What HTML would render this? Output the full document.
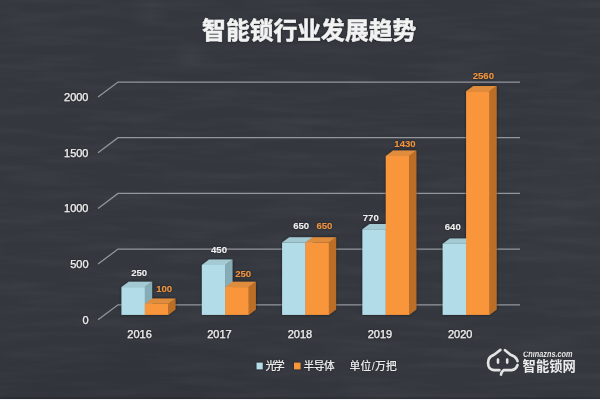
<!DOCTYPE html>
<html lang="zh-CN"><head><meta charset="utf-8"><title>智能锁行业发展趋势</title>
<style>
html,body{margin:0;padding:0;background:#34373e;}
body{width:600px;height:400px;overflow:hidden;font-family:"Liberation Sans","Noto Sans CJK SC",sans-serif;}
svg{display:block}
text{font-family:"Liberation Sans","Noto Sans CJK SC",sans-serif;}
</style></head><body>
<svg width="600" height="400" viewBox="0 0 600 400">
<defs>
<filter id="soft" x="-5%" y="-5%" width="110%" height="110%"><feGaussianBlur stdDeviation="0.45"/></filter>
<filter id="halo" x="-10%" y="-10%" width="120%" height="120%">
<feGaussianBlur in="SourceAlpha" stdDeviation="1.6" result="b"/>
<feComponentTransfer in="b" result="s"><feFuncA type="linear" slope="0.55"/></feComponentTransfer>
<feGaussianBlur in="SourceGraphic" stdDeviation="0.45" result="g"/>
<feMerge><feMergeNode in="s"/><feMergeNode in="g"/></feMerge>
</filter>
<filter id="thalo" x="-10%" y="-30%" width="120%" height="160%">
<feGaussianBlur in="SourceAlpha" stdDeviation="1.2" result="b"/>
<feComponentTransfer in="b" result="s"><feFuncA type="linear" slope="0.5"/></feComponentTransfer>
<feGaussianBlur in="SourceGraphic" stdDeviation="0.4" result="g"/>
<feMerge><feMergeNode in="s"/><feMergeNode in="g"/></feMerge>
</filter>
<filter id="grain" x="0" y="0" width="100%" height="100%">
<feTurbulence type="fractalNoise" baseFrequency="0.012 0.11" numOctaves="3" seed="7" result="n"/>
<feColorMatrix in="n" type="matrix" values="0 0 0 0 0.5  0 0 0 0 0.5  0 0 0 0 0.52  1.6 0 0 0 -0.62"/>
</filter>
<radialGradient id="dk" cx="0.5" cy="0.5" r="0.5"><stop offset="0" stop-color="#000" stop-opacity="0.07"/><stop offset="1" stop-color="#000" stop-opacity="0"/></radialGradient>
<radialGradient id="lt" cx="0.5" cy="0.5" r="0.5"><stop offset="0" stop-color="#fff" stop-opacity="0.03"/><stop offset="1" stop-color="#fff" stop-opacity="0"/></radialGradient>
</defs>
<rect width="600" height="400" fill="#34373e"/>
<rect width="600" height="400" filter="url(#grain)" opacity="0.065"/>
<ellipse cx="120" cy="390" rx="260" ry="80" fill="url(#dk)"/>
<ellipse cx="565" cy="200" rx="70" ry="150" fill="url(#lt)" opacity="0.5"/>
<ellipse cx="150" cy="12" rx="22" ry="18" fill="url(#lt)"/>
<ellipse cx="190" cy="55" rx="18" ry="16" fill="url(#lt)"/>

<g fill="none" stroke="#93969d" stroke-width="1.3" filter="url(#soft)">
<polyline points="98,319.8 118,304.8 520,304.8"/>
<polyline points="98,264.1 118,249.1 520,249.1"/>
<polyline points="98,208.4 118,193.4 520,193.4"/>
<polyline points="98,152.7 118,137.7 520,137.7"/>
<polyline points="98,97.1 118,82.1 520,82.1"/>
</g>
<g fill="#eeeeee" font-size="11" text-anchor="end" stroke="#eeeeee" stroke-width="0.25" filter="url(#thalo)">
<text x="88.5" y="323.7">0</text>
<text x="88.5" y="268.0">500</text>
<text x="88.5" y="212.3">1000</text>
<text x="88.5" y="156.6">1500</text>
<text x="88.5" y="101.0">2000</text>
</g>
<g filter="url(#halo)">
<polygon points="144.9,287.1 152.1,281.8 152.1,309.6 144.9,314.9" fill="#86acb8"/>
<polygon points="121.5,287.1 128.7,281.8 152.1,281.8 144.9,287.1" fill="#a3c9d2"/>
<rect x="121.5" y="287.1" width="23.4" height="27.8" fill="#b2dde8"/>
<polygon points="168.3,303.8 175.5,298.5 175.5,309.6 168.3,314.9" fill="#bd6e25"/>
<polygon points="144.9,303.8 152.1,298.5 175.5,298.5 168.3,303.8" fill="#e08c3e"/>
<rect x="144.9" y="303.8" width="23.4" height="11.1" fill="#f9963b"/>
<polygon points="225.3,264.9 232.5,259.6 232.5,309.6 225.3,314.9" fill="#86acb8"/>
<polygon points="201.9,264.9 209.1,259.6 232.5,259.6 225.3,264.9" fill="#a3c9d2"/>
<rect x="201.9" y="264.9" width="23.4" height="50.0" fill="#b2dde8"/>
<polygon points="248.7,287.1 255.9,281.8 255.9,309.6 248.7,314.9" fill="#bd6e25"/>
<polygon points="225.3,287.1 232.5,281.8 255.9,281.8 248.7,287.1" fill="#e08c3e"/>
<rect x="225.3" y="287.1" width="23.4" height="27.8" fill="#f9963b"/>
<polygon points="305.5,242.6 312.7,237.3 312.7,309.6 305.5,314.9" fill="#86acb8"/>
<polygon points="282.1,242.6 289.3,237.3 312.7,237.3 305.5,242.6" fill="#a3c9d2"/>
<rect x="282.1" y="242.6" width="23.4" height="72.3" fill="#b2dde8"/>
<polygon points="328.9,242.6 336.1,237.3 336.1,309.6 328.9,314.9" fill="#bd6e25"/>
<polygon points="305.5,242.6 312.7,237.3 336.1,237.3 328.9,242.6" fill="#e08c3e"/>
<rect x="305.5" y="242.6" width="23.4" height="72.3" fill="#f9963b"/>
<polygon points="385.8,229.3 393.0,224.0 393.0,309.6 385.8,314.9" fill="#86acb8"/>
<polygon points="362.4,229.3 369.6,224.0 393.0,224.0 385.8,229.3" fill="#a3c9d2"/>
<rect x="362.4" y="229.3" width="23.4" height="85.6" fill="#b2dde8"/>
<polygon points="409.2,155.9 416.4,150.6 416.4,309.6 409.2,314.9" fill="#bd6e25"/>
<polygon points="385.8,155.9 393.0,150.6 416.4,150.6 409.2,155.9" fill="#e08c3e"/>
<rect x="385.8" y="155.9" width="23.4" height="159.0" fill="#f9963b"/>
<polygon points="466.1,243.7 473.3,238.4 473.3,309.6 466.1,314.9" fill="#86acb8"/>
<polygon points="442.7,243.7 449.9,238.4 473.3,238.4 466.1,243.7" fill="#a3c9d2"/>
<rect x="442.7" y="243.7" width="23.4" height="71.2" fill="#b2dde8"/>
<polygon points="489.5,91.2 496.7,85.9 496.7,309.6 489.5,314.9" fill="#bd6e25"/>
<polygon points="466.1,91.2 473.3,85.9 496.7,85.9 489.5,91.2" fill="#e08c3e"/>
<rect x="466.1" y="91.2" width="23.4" height="223.7" fill="#f9963b"/>
</g>
<g font-size="9.6" font-weight="bold" text-anchor="middle" filter="url(#thalo)">
<text x="139.2" y="276.3" fill="#f0f0f0">250</text>
<text x="219" y="252.5" fill="#f0f0f0">450</text>
<text x="301.2" y="228.8" fill="#f0f0f0">650</text>
<text x="370.8" y="220.7" fill="#f0f0f0">770</text>
<text x="452.8" y="230.4" fill="#f0f0f0">640</text>
<text x="164.2" y="292.3" fill="#f0933c">100</text>
<text x="243.2" y="276.5" fill="#f0933c">250</text>
<text x="324.4" y="228.8" fill="#f0933c">650</text>
<text x="405" y="146.7" fill="#f0933c">1430</text>
<text x="483.3" y="78.7" fill="#f0933c">2560</text>
</g>
<g fill="#eeeeee" font-size="11" text-anchor="middle" stroke="#eeeeee" stroke-width="0.25" filter="url(#thalo)">
<text x="139.6" y="338.3">2016</text>
<text x="219.4" y="338.3">2017</text>
<text x="300.0" y="338.3">2018</text>
<text x="380.0" y="338.3">2019</text>
<text x="460.2" y="338.3">2020</text>
</g>
<text x="309.2" y="39.3" font-size="23.8" font-weight="bold" fill="#f2f2f2" stroke="#f2f2f2" stroke-width="0.45" text-anchor="middle" filter="url(#thalo)">智能锁行业发展趋势</text>
<g filter="url(#thalo)">
<rect x="256.6" y="362.7" width="6.1" height="6.6" fill="#b3dde9"/>
<g font-size="10.8" fill="#e8e8e8" font-weight="500" lengthAdjust="spacingAndGlyphs">
<text x="265.5" y="370.2" textLength="19.2">光学</text>
<text x="303.5" y="370.2" textLength="31.2">半导体</text>
<text x="349.5" y="370.2" textLength="47.3">单位/万把</text>
</g>
<rect x="294" y="362.7" width="6.5" height="6.6" fill="#f8963a"/>
</g>
<g filter="url(#soft)">
<g fill="none" stroke="#e4e4e4" stroke-width="2.6" stroke-linecap="round" stroke-linejoin="round"><path d="M500.4 349.9 L494.4 354.5 Q489.6 356.6 488.6 359.5 Q487.5 363 488.6 366.4 Q490 370 494 370.1 L499.4 370.1"/><path d="M505 350.2 L510.5 354.8 Q515.5 356.6 517 359.6 L517.5 361.2"/><path d="M517.5 365 Q516 369.8 511.5 370.1 L503.6 370.1 L501.6 372.4 L501 374.6"/><path d="M498 359.6 V362.6 M507.2 359.6 V362.6"/></g>
<clipPath id="wmc"><rect x="520" y="351.7" width="60" height="8"/></clipPath>
<text x="523" y="356.9" font-size="8.6" font-style="italic" font-weight="bold" fill="#e4e4e4" textLength="49.5" lengthAdjust="spacingAndGlyphs" clip-path="url(#wmc)">Chinazns.com</text>
<text transform="translate(522.6 371.3) scale(1 1.04)" font-size="13.3" font-weight="bold" fill="#ececec">智能锁网</text>
</g>
<rect x="0" y="397" width="600" height="2" fill="#000" opacity="0.12"/>
<rect x="0" y="399" width="600" height="1" fill="#f6f7fa"/>
</svg></body></html>
